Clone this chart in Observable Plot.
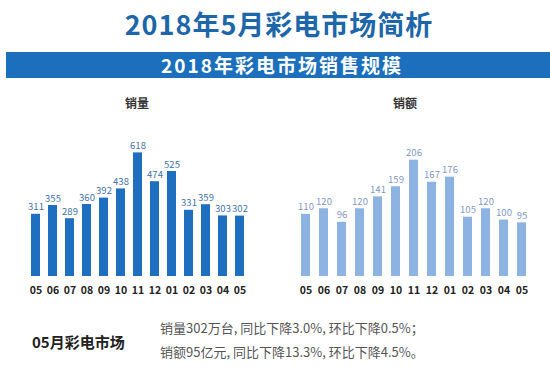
<!DOCTYPE html>
<html>
<head>
<meta charset="utf-8">
<script src="https://cdn.jsdelivr.net/npm/d3@7"></script>
<script src="https://cdn.jsdelivr.net/npm/@observablehq/plot@0.6"></script>
<style>
  html, body { margin: 0; padding: 0; background: #fff; }
  body { font-family: "Noto Sans CJK SC", "Noto Sans", sans-serif; }
  #root { position: relative; width: 550px; height: 367px; overflow: hidden; background: #fff; }
  .abs { position: absolute; white-space: nowrap; }
  #title { left: 0; width: 550px; top: 7px; text-align: center; font-size: 27px; font-weight: bold; color: #1d66aa; letter-spacing: 1px; line-height: 34px; padding-left: 8px; box-sizing: border-box; }
  #banner { left: 6px; width: 544px; top: 52px; height: 26px; background: #1c6fbc; color: #fff; font-weight: bold; font-size: 19px; letter-spacing: 2px; line-height: 26px; text-align: center; padding-left: 8px; box-sizing: border-box; }
  .sub { top: 94px; font-size: 12px; font-weight: bold; color: #333; transform: translateX(-50%); line-height: 18px; }
  #plotL { left: 0; top: 90px; }
  #plotR { left: 275px; top: 90px; }
  #noteHead { left: 32px; top: 331px; font-size: 15px; font-weight: bold; color: #222; line-height: 22px; }
  .note { left: 160px; font-size: 13px; color: #555; line-height: 18px; }
</style>
</head>
<body>
<div id="root">
  <div id="title" class="abs">2018年5月彩电市场简析</div>
  <div id="banner" class="abs">2018年彩电市场销售规模</div>
  <div class="abs sub" style="left:137px">销量</div>
  <div class="abs sub" style="left:405px">销额</div>
  <div id="plotL" class="abs"></div>
  <div id="plotR" class="abs"></div>
  <div id="noteHead" class="abs">05月彩电市场</div>
  <div class="abs note" style="top:319px">销量302万台, 同比下降3.0%, 环比下降0.5%；</div>
  <div class="abs note" style="top:343px">销额95亿元, 同比下降13.3%, 环比下降4.5%。</div>
</div>
<script>
const months = ["05","06","07","08","09","10","11","12","01","02","03","04","05"];
const volume = [311, 355, 289, 360, 392, 438, 618, 474, 525, 331, 359, 303, 302];
const revenue = [110, 120, 96, 120, 141, 159, 206, 167, 176, 105, 120, 100, 95];

const keys = months.map((m, i) => i);

function chart(values, opts) {
  const data = values.map((v, i) => ({k: i, m: months[i], v}));
  return Plot.plot({
    width: 275,
    height: 215,
    marginTop: 46,
    marginBottom: 29,
    marginLeft: 0,
    marginRight: 0,
    style: {fontFamily: '"Noto Sans CJK SC", "Noto Sans", sans-serif', background: "transparent", overflow: "visible"},
    x: {type: "band", domain: keys, range: opts.range, paddingInner: opts.pad, paddingOuter: 0.5, axis: null},
    y: {domain: [0, opts.ymax], range: [186, 46], axis: null},
    marks: [
      Plot.barY(data, {x: "k", y: "v", fill: opts.fill}),
      Plot.text(data, {x: "k", y: "v", text: d => String(d.v), dy: -7, fill: opts.labelFill, fontSize: 9.5}),
      Plot.axisX(keys, {tickSize: 0, tickPadding: 10, tickFormat: i => months[i], fontSize: 10.5, fontWeight: "bold", fill: "#222", label: null})
    ]
  });
}

document.getElementById("plotL").appendChild(chart(volume, {range: [17.1, 258.4], pad: 0.5, ymax: 700, fill: "#1f6fc0", labelFill: "#3f74a8"}));
document.getElementById("plotR").appendChild(chart(revenue, {range: [11.1, 264.9], pad: 0.52, ymax: 248, fill: "#8db3e2", labelFill: "#7f98c4"}));
</script>
</body>
</html>
